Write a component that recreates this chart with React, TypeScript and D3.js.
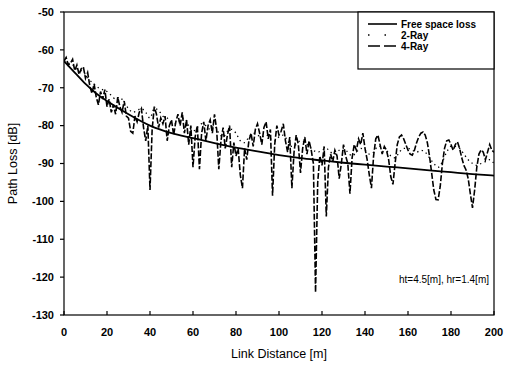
import * as d3 from "d3";

// link distance samples [m]
const fsDistance = [0, 5, 10, 15, 20, 30, 40, 50, 60, 70, 80, 90, 100, 110, 120, 130, 140, 150, 160, 170, 180, 190, 200];
const fsLoss = [-63, -66, -69, -71.5, -73.5, -77, -80, -82, -83.3, -84.6, -85.8, -86.8, -87.8, -88.6, -89.2, -89.8, -90.3, -90.8, -91.3, -91.8, -92.3, -92.8, -93.2];

// 2-Ray read every 2 m
const ray2Step = 2;
const ray2Loss = [
  -63, -63.5, -64, -65, -65.5, -66.5, -68, -69, -70, -70.5,
  -71, -72, -73, -72.5, -74, -75.5, -76.5, -76, -75.5, -76.5,
  -78, -75.5, -76, -77.5, -78, -79, -79.5, -78.5, -78, -80,
  -81.5, -80.5, -79.5, -80, -81, -80, -82, -83, -81.5, -81,
  -82, -84, -84.5, -83, -82, -82.5, -83, -82.5, -83.5, -84,
  -83, -82.5, -84, -85.5, -85, -84, -84.5, -85.5, -86.5, -87,
  -86.5, -86, -87, -87.5, -86.5, -86, -87, -88, -87, -86,
  -86.5, -87.5, -87, -85.5, -85.5, -86.5, -88, -88.5, -87, -86,
  -86, -86.5, -87, -86.5, -87, -88.5, -90, -91, -89.5, -87,
  -85.5, -85.5, -86, -87.5, -89, -90, -90.5, -90, -89.5, -89,
  -90,
];

// 4-Ray read every 1 m
const ray4Step = 1;
const ray4Loss = [
  -63, -62, -64, -63.5, -62.5, -65.5, -64, -66.5, -65, -64.5,
  -67.5, -66, -69.5, -71.5, -69, -72.5, -74.5, -71, -73, -70.5,
  -75, -73, -76.5, -74.5, -77, -72.5, -75, -76.5, -73.5, -77.5,
  -78, -81.5, -82, -77.5, -79, -76.5, -75.5, -80.5, -84, -80,
  -97, -81, -75, -77, -80.5, -78, -79.5, -77.5, -84, -80,
  -78.5, -82.5, -79, -77, -80, -76.5, -82, -78.5, -85, -80,
  -91, -83, -80, -91.5, -82, -79, -84, -80, -78.5, -82,
  -77, -81, -91.5, -84, -80.5, -86, -82.5, -80, -91, -84.5,
  -88, -86, -93, -96.5, -86, -89, -84, -82, -85.5, -81,
  -79.5, -82, -85, -80.5, -79, -83.5, -81, -98.5, -85, -80,
  -82.5, -81.5, -79.5, -84, -87, -83, -96.5, -87, -82.5, -85,
  -92.5, -86, -83, -87.5, -84, -86.5, -90, -124, -95, -88,
  -90.5, -85.5, -104, -91, -87.5, -89.5, -86.5, -88, -94, -90,
  -85, -88, -90, -98, -88.5, -85, -86.5, -83.5, -85, -82,
  -86, -89, -93, -96.5, -88, -83.5, -82.5, -85, -87.5, -85.5,
  -86.5, -89, -93.5, -95.5, -90, -85, -83, -82.5, -83.5, -85,
  -86.5, -87.5, -87.8, -86.5, -84.5, -83, -82, -81.7, -82.5, -84.5,
  -88, -92.5, -97, -99.5, -99.6, -96, -90, -86, -84, -83.8,
  -85, -86.5, -85, -84.3, -86, -88.5, -90.5, -91.7, -94, -98,
  -101.7, -97, -91, -87.5, -86.4, -87, -89, -87, -85, -86.5,
  -87,
];

const xTicks = [0, 20, 40, 60, 80, 100, 120, 140, 160, 180, 200];
const yTicks = [-50, -60, -70, -80, -90, -100, -110, -120, -130];

const W = 506;
const H = 368;
const left = 64, right = 494, top = 12, bottom = 315;
const font = "'Liberation Sans', Arial, sans-serif";

export default function App() {
  const x = d3.scaleLinear().domain([0, 200]).range([left, right]);
  const y = d3.scaleLinear().domain([-130, -50]).range([bottom, top]);

  const line = d3
    .line<[number, number]>()
    .x((d) => x(d[0]))
    .y((d) => y(d[1]));

  const fsPath = line.curve(d3.curveMonotoneX)(fsDistance.map((d, i) => [d, fsLoss[i]]));
  const r2Path = line.curve(d3.curveMonotoneX)(ray2Loss.map((v, i) => [i * ray2Step, v]));
  const r4Path = line.curve(d3.curveLinear)(ray4Loss.map((v, i) => [i * ray4Step, v]));

  const legend = [
    { label: "Free space loss", dash: "none", width: 1.6 },
    { label: "2-Ray", dash: "1.5 15", width: 1.6 },
    { label: "4-Ray", dash: "12 4", width: 1.6 },
  ];

  return (
    <svg
      width={W}
      height={H}
      style={{ position: "absolute", left: 0, top: 0, background: "#fff" }}
      fontFamily={font}
    >
      <defs>
        <clipPath id="plot">
          <rect x={left} y={top} width={right - left} height={bottom - top} />
        </clipPath>
      </defs>

      <g clipPath="url(#plot)" fill="none" stroke="#000">
        <path d={r2Path ?? ""} strokeWidth={1.3} strokeDasharray="1.3 3.5" />
        <path d={r4Path ?? ""} strokeWidth={1.6} strokeDasharray="6 2" />
        <path d={fsPath ?? ""} strokeWidth={1.8} />
      </g>

      {/* frame */}
      <rect x={left} y={top} width={right - left} height={bottom - top} fill="none" stroke="#000" strokeWidth={1.2} />

      {/* y axis */}
      {yTicks.map((t) => (
        <g key={t}>
          <line x1={left - 4} x2={left} y1={y(t)} y2={y(t)} stroke="#000" strokeWidth={1.2} />
          <text x={left - 10} y={y(t)} dy="0.35em" textAnchor="end" fontSize={11} fontWeight="bold">
            {t}
          </text>
        </g>
      ))}

      {/* x axis */}
      {xTicks.map((t) => (
        <g key={t}>
          <line x1={x(t)} x2={x(t)} y1={bottom} y2={bottom - 4} stroke="#000" strokeWidth={1.2} />
          <text x={x(t)} y={bottom + 21} textAnchor="middle" fontSize={11} fontWeight="bold">
            {t}
          </text>
        </g>
      ))}

      <text x={(left + right) / 2} y={358} textAnchor="middle" fontSize={12.5}>
        Link Distance [m]
      </text>
      <text
        transform={`translate(17, ${(top + bottom) / 2}) rotate(-90)`}
        textAnchor="middle"
        fontSize={12.5}
      >
        Path Loss [dB]
      </text>

      {/* legend */}
      <rect x={358} y={top} width={right - 358} height={57} fill="#fff" stroke="#000" strokeWidth={1.2} />
      {legend.map((l, i) => (
        <g key={l.label} transform={`translate(0, ${24 + i * 11})`}>
          <line x1={368} x2={397} y1={0} y2={0} stroke="#000" strokeWidth={l.width} strokeDasharray={l.dash} />
          <text x={401} y={0} dy="0.35em" fontSize={10} fontWeight="bold">
            {l.label}
          </text>
        </g>
      ))}

      <text x={489} y={283} textAnchor="end" fontSize={10}>
        ht=4.5[m], hr=1.4[m]
      </text>
    </svg>
  );
}
